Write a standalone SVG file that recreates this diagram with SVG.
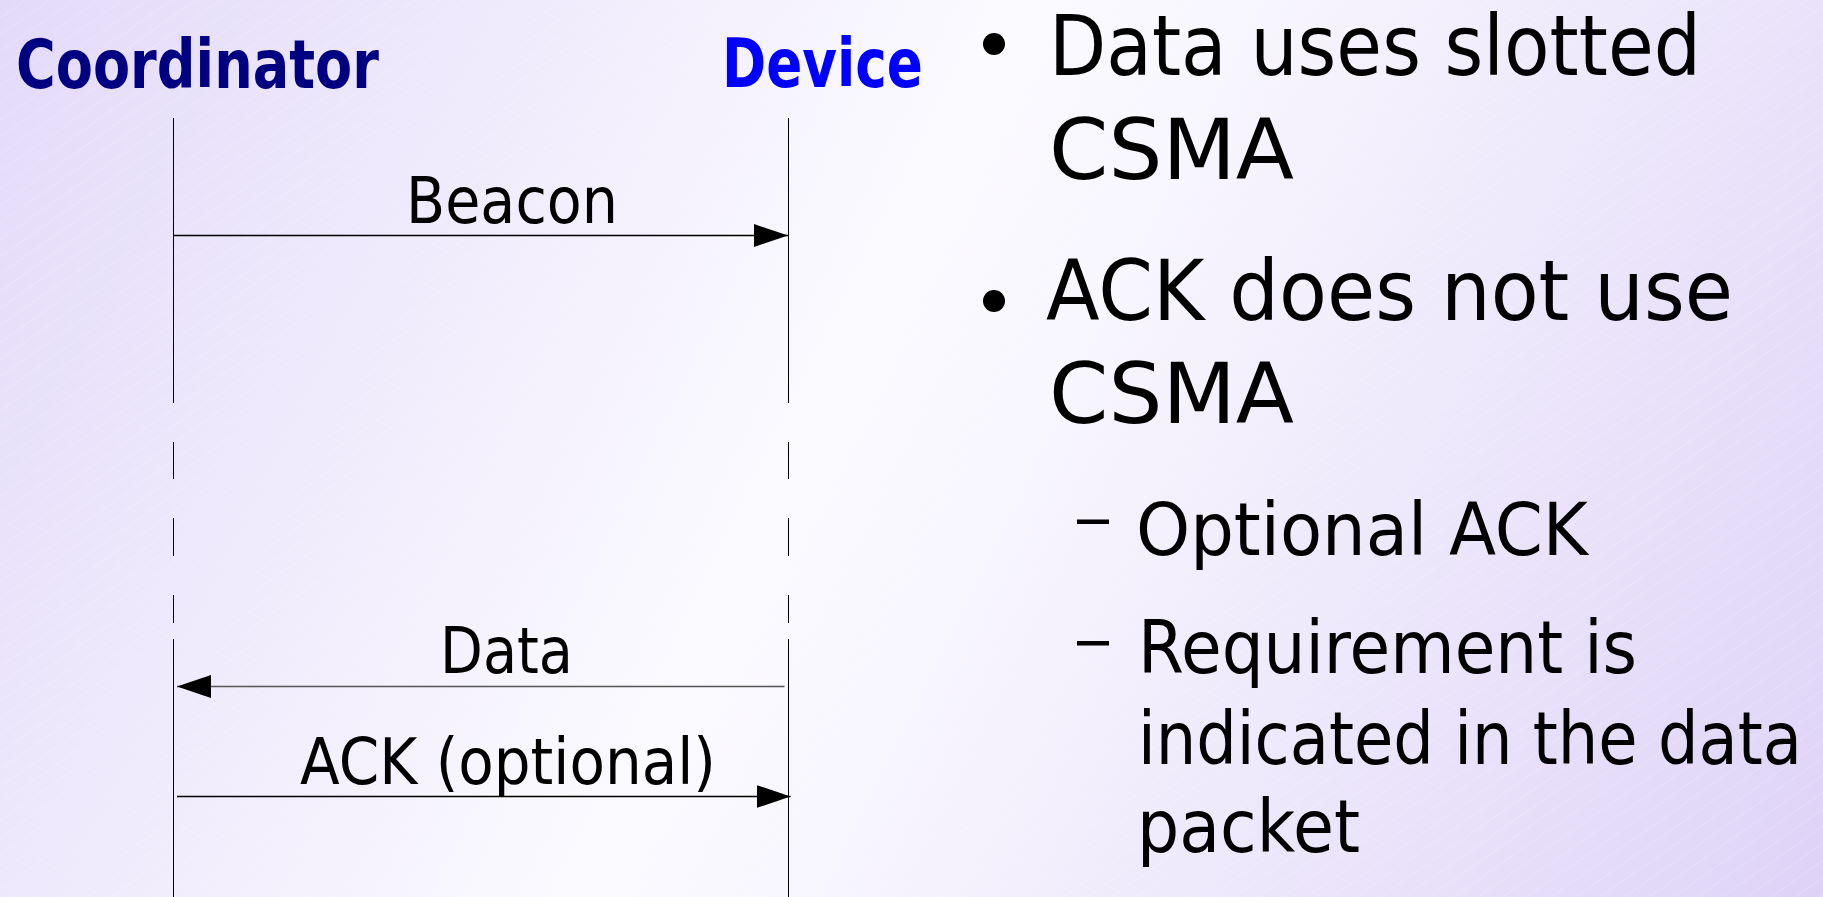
<svg xmlns="http://www.w3.org/2000/svg" width="1823" height="897" viewBox="0 0 1823 897">
<defs>
<linearGradient id="bg" x1="0" y1="0" x2="1823" y2="897" gradientUnits="userSpaceOnUse">
<stop offset="0" stop-color="#e3daf9"/>
<stop offset="0.45" stop-color="#fbfaff"/>
<stop offset="0.55" stop-color="#f8f6fe"/>
<stop offset="1" stop-color="#ded3f7"/>
</linearGradient>
<pattern id="hatch" width="14" height="14" patternUnits="userSpaceOnUse" patternTransform="rotate(-35)">
<line x1="0" y1="0" x2="14" y2="0" stroke="#ffffff" stroke-opacity="0.3" stroke-width="1"/>
</pattern>
<marker id="arrow" markerUnits="userSpaceOnUse" markerWidth="34" markerHeight="23" refX="34" refY="11.5" orient="auto">
<path d="M0,0 L34,11.5 L0,23 z" fill="#000"/>
</marker>
<style>
.t{font-family:"DejaVu Sans","Liberation Sans",sans-serif;fill:#000}
.title{font-family:"DejaVu Sans","Liberation Sans",sans-serif;font-weight:bold;font-size:67px}
.lbl{font-size:64px}
.main{font-size:84px}
.sub{font-size:73px}
.life{fill:none;stroke:#000;stroke-width:1}
.msg{stroke:#000;stroke-width:1.5;fill:none}
</style>
</defs>
<rect width="1823" height="897" fill="url(#bg)"/>
<rect width="1823" height="897" fill="url(#hatch)"/>

<g id="coordinator">
<text class="title" x="16" y="88" fill="#000080" textLength="363" lengthAdjust="spacingAndGlyphs">Coordinator</text>
<path class="life" d="M173.5,118 V403 M173.5,442 V479 M173.5,518 V556 M173.5,595 V623 M173.5,639 V897"/>
</g>

<g id="device">
<text class="title" x="722" y="87" fill="#0000ff" textLength="201" lengthAdjust="spacingAndGlyphs">Device</text>
<path class="life" d="M788.5,118 V403 M788.5,442 V479 M788.5,518 V556 M788.5,595 V623 M788.5,639 V897"/>
</g>

<g id="connectors">
<line class="msg" x1="174" y1="235.5" x2="788" y2="235.5" marker-end="url(#arrow)"/>
<text class="t lbl" x="406" y="222.5" textLength="212" lengthAdjust="spacingAndGlyphs">Beacon</text>
<line class="msg" x1="784.5" y1="686.5" x2="177" y2="686.5" style="stroke:#555" marker-end="url(#arrow)"/>
<text class="t lbl" x="440" y="672.5" textLength="133" lengthAdjust="spacingAndGlyphs">Data</text>
<line class="msg" x1="177" y1="796.5" x2="790.5" y2="796.5" marker-end="url(#arrow)"/>
<text class="t lbl" x="300" y="783.5" textLength="416" lengthAdjust="spacingAndGlyphs">ACK (optional)</text>
</g>

<g id="bullets">
<circle cx="994" cy="44" r="11" fill="#000"/>
<text class="t main" x="1049" y="75" textLength="652" lengthAdjust="spacingAndGlyphs">Data uses slotted</text>
<text class="t main" x="1049" y="179" textLength="245" lengthAdjust="spacingAndGlyphs">CSMA</text>
<circle cx="994" cy="301" r="11" fill="#000"/>
<text class="t main" x="1046" y="320" textLength="687" lengthAdjust="spacingAndGlyphs">ACK does not use</text>
<text class="t main" x="1049" y="423" textLength="245" lengthAdjust="spacingAndGlyphs">CSMA</text>
<rect x="1077" y="519.5" width="32" height="4.5" fill="#000"/>
<text class="t sub" x="1136" y="555" textLength="452" lengthAdjust="spacingAndGlyphs">Optional ACK</text>
<rect x="1077" y="641" width="32" height="4.5" fill="#000"/>
<text class="t sub" x="1138" y="673" textLength="499" lengthAdjust="spacingAndGlyphs">Requirement is</text>
<text class="t sub" x="1138" y="764" textLength="664" lengthAdjust="spacingAndGlyphs">indicated in the data</text>
<text class="t sub" x="1137" y="852" textLength="223" lengthAdjust="spacingAndGlyphs">packet</text>
</g>
</svg>
